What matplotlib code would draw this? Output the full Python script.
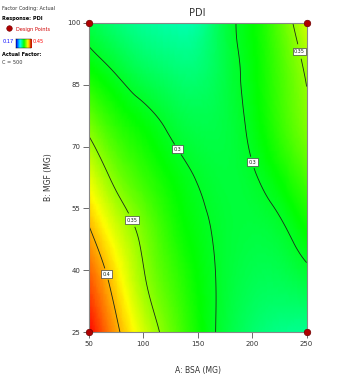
import numpy as np
import matplotlib.pyplot as plt
import matplotlib.tri as mtri
from matplotlib.colors import LinearSegmentedColormap

# factor levels (A: BSA, B: MGF) and PDI
bsa = [50, 75, 100, 125, 150, 175, 200, 225, 250]
mgf = [25, 37.5, 50, 62.5, 75, 87.5, 100]
pdi = [
    [0.450, 0.406, 0.369, 0.339, 0.314, 0.294, 0.281, 0.273, 0.270],
    [0.427, 0.389, 0.353, 0.329, 0.310, 0.296, 0.288, 0.287, 0.293],
    [0.402, 0.369, 0.343, 0.320, 0.305, 0.296, 0.293, 0.297, 0.312],
    [0.374, 0.344, 0.325, 0.310, 0.299, 0.294, 0.298, 0.311, 0.330],
    [0.344, 0.322, 0.309, 0.297, 0.290, 0.292, 0.304, 0.324, 0.345],
    [0.314, 0.300, 0.288, 0.281, 0.279, 0.291, 0.307, 0.328, 0.352],
    [0.290, 0.278, 0.269, 0.264, 0.266, 0.292, 0.309, 0.334, 0.368],
]
levels = [0.3, 0.35, 0.4]
label_pos = [(65, 39), (88, 52), (133, 69.5), (198, 66), (243, 93)]
design_a = [50, 250, 50, 250]
design_b = [25, 25, 100, 100]
vmin, vmax = 0.17, 0.45

cmap = LinearSegmentedColormap.from_list(
    'de', ['#0000ff', '#00ffff', '#00ff00', '#ffff00', '#ff0000'])

fig = plt.figure(figsize=(3.62, 3.85), dpi=100)
ax = fig.add_axes([0.245, 0.137, 0.602, 0.804])

X, Y = np.meshgrid(bsa, mgf)
Z = np.array(pdi)
# let matplotlib smooth the surface between the read grid points
tri = mtri.Triangulation(X.ravel() / 200.0, Y.ravel() / 75.0)
interp = mtri.CubicTriInterpolator(tri, Z.ravel(), kind='min_E')
refiner = mtri.UniformTriRefiner(tri)
tri_f, z_f = refiner.refine_field(Z.ravel(), triinterpolator=interp, subdiv=4)
tri_f = mtri.Triangulation(tri_f.x * 200.0, tri_f.y * 75.0, tri_f.triangles)

ax.tripcolor(tri_f, z_f, shading='gouraud', cmap=cmap, vmin=vmin, vmax=vmax)
cs = ax.tricontour(tri_f, z_f, levels=levels, colors='#1a2a1a', linewidths=0.6)
lbl = ax.clabel(cs, fmt=lambda v: f'{v:g}', fontsize=3.5, inline=True,
                inline_spacing=2, manual=label_pos)
for t in lbl:
    t.set_rotation(0)
    t.set_bbox(dict(boxstyle='square,pad=0.3', fc='white', ec='#444444', lw=0.5))

ax.scatter(design_a, design_b, s=22, c='#b00000', edgecolors='#700000',
           linewidths=0.5, zorder=5, clip_on=False)

ax.set_xlim(50, 250)
ax.set_ylim(25, 100)
ax.set_xticks([50, 100, 150, 200, 250])
ax.set_yticks([25, 40, 55, 70, 85, 100])
ax.tick_params(labelsize=5, length=4, width=0.6, color='#555555',
               labelcolor='#333333', pad=2)
for s in ax.spines.values():
    s.set_color('#888888')
    s.set_linewidth(0.8)
ax.set_title('PDI', fontsize=7, color='#333333', pad=5)
ax.set_xlabel('A: BSA (MG)', fontsize=5.5, color='#333333', labelpad=14)
ax.set_ylabel('B: MGF (MG)', fontsize=5.5, color='#333333', labelpad=10)

# legend block in the top-left corner
fig.text(0.006, 0.985, 'Factor Coding: Actual', fontsize=3.6, color='#333333', va='top')
fig.text(0.006, 0.958, 'Response: PDI', fontsize=3.6, fontweight='bold', va='top')
fig.text(0.045, 0.93, 'Design Points', fontsize=3.6, color='#d00000', va='top')
dot = fig.add_axes([0.012, 0.918, 0.025, 0.018])
dot.scatter([0], [0], s=16, c='#b00000', edgecolors='#700000', linewidths=0.4)
dot.set_axis_off()
fig.text(0.006, 0.898, '0.17', fontsize=3.6, color='#0000ff', va='top')
fig.text(0.09, 0.898, '0.45', fontsize=3.6, color='#ff0000', va='top')
cb = fig.add_axes([0.044, 0.876, 0.042, 0.024])
cb.imshow(np.linspace(0, 1, 64)[None, :], cmap=cmap, aspect='auto')
cb.set_xticks([])
cb.set_yticks([])
for s in cb.spines.values():
    s.set_linewidth(0.3)
fig.text(0.006, 0.866, 'Actual Factor:', fontsize=3.6, fontweight='bold', va='top')
fig.text(0.006, 0.843, 'C = 500', fontsize=3.6, color='#333333', va='top')

fig.savefig('out.png', dpi=100)
